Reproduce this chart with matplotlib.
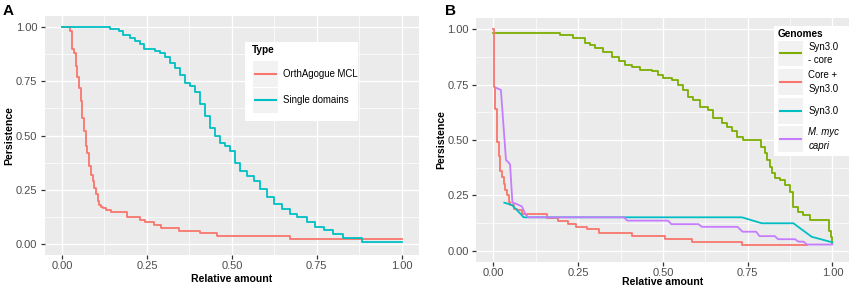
import matplotlib

matplotlib.use("Agg")
import matplotlib.pyplot as plt
from matplotlib.patches import Rectangle

plt.rcParams["font.family"] = ["Liberation Sans", "DejaVu Sans"]

W, H = 854, 289

# panel A: persistence per type (step curves)
A_MCL_X = [0.0, 0.025, 0.03, 0.035, 0.04, 0.045, 0.05, 0.055, 0.06, 0.065, 0.07, 0.075,
           0.08, 0.085, 0.09, 0.095, 0.10, 0.105, 0.11, 0.115, 0.12, 0.13, 0.145, 0.19,
           0.23, 0.245, 0.27, 0.29, 0.345, 0.405, 0.455, 0.67, 1.0]
A_MCL_Y = [1.0, 0.98, 0.90, 0.88, 0.82, 0.77, 0.72, 0.66, 0.58, 0.52, 0.45, 0.42,
           0.36, 0.32, 0.29, 0.26, 0.23, 0.20, 0.18, 0.17, 0.165, 0.155, 0.15, 0.125,
           0.11, 0.10, 0.087, 0.075, 0.062, 0.05, 0.037, 0.025, 0.025]

A_DOM_X = [0.0, 0.142, 0.167, 0.181, 0.201, 0.216, 0.230, 0.240, 0.275, 0.289,
           0.304, 0.319, 0.333, 0.348, 0.363, 0.377, 0.392, 0.407, 0.422, 0.436,
           0.451, 0.466, 0.480, 0.495, 0.510, 0.525, 0.544, 0.564, 0.583, 0.603,
           0.623, 0.647, 0.672, 0.691, 0.721, 0.745, 0.770, 0.799, 0.828, 0.882, 1.0]
A_DOM_Y = [1.0, 0.99, 0.98, 0.965, 0.95, 0.934, 0.92, 0.90, 0.89, 0.88,
           0.862, 0.835, 0.81, 0.78, 0.743, 0.728, 0.70, 0.644, 0.59, 0.537,
           0.50, 0.468, 0.453, 0.43, 0.376, 0.338, 0.315, 0.292, 0.254, 0.216,
           0.185, 0.162, 0.139, 0.124, 0.10, 0.078, 0.063, 0.047, 0.028, 0.012, 0.012]

# panel B: persistence per genome
B_CORE_X = [0.0, 0.195, 0.236, 0.270, 0.285, 0.300, 0.324, 0.349, 0.369, 0.388,
            0.408, 0.433, 0.467, 0.487, 0.501, 0.526, 0.546, 0.560, 0.575, 0.590,
            0.610, 0.634, 0.649, 0.674, 0.688, 0.703, 0.718, 0.737, 0.790, 0.800,
            0.808, 0.815, 0.823, 0.830, 0.845, 0.860, 0.875, 0.885, 0.900, 0.914,
            0.934, 0.990, 0.997, 1.0]
B_CORE_Y = [0.985, 0.975, 0.96, 0.94, 0.93, 0.914, 0.90, 0.877, 0.855, 0.84,
            0.83, 0.816, 0.81, 0.795, 0.78, 0.773, 0.75, 0.726, 0.696, 0.68,
            0.65, 0.636, 0.598, 0.575, 0.56, 0.54, 0.515, 0.50, 0.47, 0.44,
            0.41, 0.38, 0.35, 0.33, 0.32, 0.296, 0.266, 0.199, 0.176, 0.16,
            0.137, 0.09, 0.06, 0.033]

B_CORESYN_X = [0.0, 0.002, 0.005, 0.01, 0.015, 0.02, 0.025, 0.03, 0.035, 0.04, 0.045,
               0.05, 0.06, 0.07, 0.085, 0.157, 0.19, 0.22, 0.245, 0.275, 0.31, 0.41,
               0.507, 0.585, 0.733, 0.925]
B_CORESYN_Y = [1.0, 0.74, 0.64, 0.49, 0.43, 0.36, 0.335, 0.30, 0.275, 0.25, 0.22,
               0.205, 0.19, 0.183, 0.166, 0.15, 0.135, 0.12, 0.108, 0.097, 0.082, 0.067,
               0.052, 0.041, 0.024, 0.024]

B_SYN_X = [0.032, 0.054, 0.074, 0.089, 0.733, 0.792, 0.885, 0.939, 1.0]
B_SYN_Y = [0.217, 0.207, 0.176, 0.151, 0.151, 0.124, 0.124, 0.063, 0.038]

B_MYC_X = [0.008, 0.022, 0.037, 0.044, 0.049, 0.056, 0.064, 0.074, 0.084, 0.094,
           0.103, 0.385, 0.395, 0.515, 0.525, 0.605, 0.615, 0.72, 0.735, 0.775,
           0.785, 0.83, 0.84, 0.89, 0.9, 0.915, 0.925, 1.0]
B_MYC_Y = [0.736, 0.726, 0.41, 0.40, 0.39, 0.217, 0.214, 0.207, 0.2, 0.166,
           0.151, 0.151, 0.136, 0.136, 0.12, 0.12, 0.108, 0.108, 0.086, 0.086,
           0.066, 0.066, 0.052, 0.052, 0.041, 0.041, 0.028, 0.028]

TICKS = [0.0, 0.25, 0.5, 0.75, 1.0]
TICK_LABELS = ["0.00", "0.25", "0.50", "0.75", "1.00"]
MINOR = [0.125, 0.375, 0.625, 0.875]

RED = "#F8766D"
GREEN = "#7CAE00"
CYAN = "#00BFC4"
PURPLE = "#C77CFF"
LW = 1.3


def px_axes(fig, left, top, right, bottom):
    # axes from pixel box (origin top left)
    return fig.add_axes([left / W, 1 - bottom / H, (right - left) / W, (bottom - top) / H])


def style_panel(ax):
    ax.set_facecolor("#EBEBEB")
    ax.set_xlim(-0.05, 1.05)
    ax.set_ylim(-0.05, 1.05)
    ax.set_xticks(TICKS)
    ax.set_xticklabels(TICK_LABELS)
    ax.set_yticks(TICKS)
    ax.set_yticklabels(TICK_LABELS)
    ax.set_xticks(MINOR, minor=True)
    ax.set_yticks(MINOR, minor=True)
    for s in ax.spines.values():
        s.set_visible(False)
    ax.tick_params(which="major", length=3, width=0.9, color="#333333",
                   labelcolor="#4D4D4D", labelsize=8)
    ax.tick_params(axis="x", which="major", pad=1.5)
    ax.tick_params(axis="y", which="major", pad=2.5)
    ax.tick_params(which="minor", length=0)
    ax.grid(which="major", color="white", linewidth=1.0)
    ax.grid(which="minor", color="white", linewidth=0.5)
    ax.set_axisbelow(True)


def draw_legend(fig, box, title, entries, key_x, key_w, key_tops, key_h, text_x):
    left, top, right, bottom = box
    lg = px_axes(fig, left, top, right, bottom)
    lg.set_xlim(0, right - left)
    lg.set_ylim(bottom - top, 0)
    lg.set_facecolor("white")
    lg.set_xticks([])
    lg.set_yticks([])
    for s in lg.spines.values():
        s.set_visible(False)
    lg.text(key_x - 1, 8, title, fontsize=7.2, fontweight="bold", va="center", ha="left")
    for (label, color, style), kt in zip(entries, key_tops):
        lg.add_patch(Rectangle((key_x, kt), key_w, key_h, facecolor="#F2F2F2", edgecolor="none"))
        yc = kt + key_h / 2
        lg.plot([key_x + 1, key_x + key_w - 1], [yc, yc], color=color, linewidth=1.5,
                solid_capstyle="butt")
        lg.text(text_x, yc, label, fontsize=6.9, style=style, va="center", ha="left",
                linespacing=1.45)


fig = plt.figure(figsize=(W / 100, H / 100), dpi=100)

# panel A
ax_a = px_axes(fig, 45, 16.2, 418.7, 255)
style_panel(ax_a)
ax_a.plot(A_MCL_X, A_MCL_Y, drawstyle="steps-post", color=RED, linewidth=LW)
ax_a.plot(A_DOM_X, A_DOM_Y, drawstyle="steps-post", color=CYAN, linewidth=LW)

# panel B
ax_b = px_axes(fig, 476.5, 18.3, 849.3, 261.8)
style_panel(ax_b)
ax_b.plot(B_CORE_X, B_CORE_Y, drawstyle="steps-post", color=GREEN, linewidth=LW)
ax_b.plot(B_CORESYN_X, B_CORESYN_Y, drawstyle="steps-post", color=RED, linewidth=LW)
ax_b.plot(B_SYN_X, B_SYN_Y, color=CYAN, linewidth=LW)
ax_b.plot(B_MYC_X, B_MYC_Y, color=PURPLE, linewidth=LW)

# axis titles
lab = dict(fontsize=7.6, fontweight="bold", color="black")
fig.text((45 + 418.7) / 2 / W, 1 - 279 / H, "Relative amount", ha="center", va="center", **lab)
fig.text((476.5 + 849.3) / 2 / W, 1 - 282 / H, "Relative amount", ha="center", va="center", **lab)
fig.text(9 / W, 1 - 135.6 / H, "Persistence", rotation=90, ha="center", va="center", **lab)
fig.text(441 / W, 1 - 140 / H, "Persistence", rotation=90, ha="center", va="center", **lab)

# panel tags
fig.text(3 / W, 1 - 11 / H, "A", fontsize=11, fontweight="bold", ha="left", va="center")
fig.text(445 / W, 1 - 11 / H, "B", fontsize=11, fontweight="bold", ha="left", va="center")

# legends
draw_legend(fig, (245, 41.7, 358, 120.7), "Type",
            [("OrthAgogue MCL", RED, "normal"), ("Single domains", CYAN, "normal")],
            key_x=7.7, key_w=25, key_tops=[19.3, 46], key_h=25.5, text_x=37.7)
draw_legend(fig, (774, 26, 852, 156), "Genomes",
            [("Syn3.0\n- core", GREEN, "normal"), ("Core +\nSyn3.0", RED, "normal"),
             ("Syn3.0", CYAN, "normal"), ("M. myc\ncapri", PURPLE, "italic")],
            key_x=4.3, key_w=25, key_tops=[14.7, 43.3, 72.3, 100], key_h=25.5, text_x=34.3)

fig.savefig("out.png", dpi=100)
